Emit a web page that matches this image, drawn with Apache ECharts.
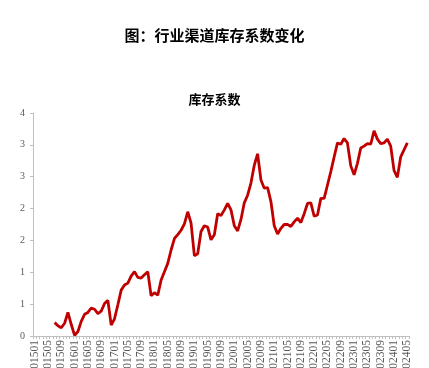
<!DOCTYPE html>
<html>
<head>
<meta charset="utf-8">
<script src="https://cdn.jsdelivr.net/npm/echarts@6/dist/echarts.min.js"></script>
<style>
  html, body { margin: 0; padding: 0; background: #fff; }
  #chart { width: 429px; height: 368px; }
</style>
</head>
<body>
<div id="chart"></div>
<script>
// 月份 201501 - 202405
const months = []
for (let y = 2015; y <= 2024; y++) {
  for (let m = 1; m <= 12; m++) {
    if (y === 2024 && m > 5) break
    months.push(String(y) + (m < 10 ? '0' + m : m))
  }
}

// 库存系数（前6个月无数据）
const stockRatio = [
  null, null, null, null, null, null,
  0.21, 0.16, 0.13, 0.20, 0.37, 0.18, 0.01, 0.07, 0.23, 0.34,
  0.37, 0.44, 0.42, 0.35, 0.39, 0.51, 0.56, 0.17, 0.27, 0.49,
  0.72, 0.80, 0.83, 0.94, 1.01, 0.92, 0.91, 0.96, 1.01, 0.63,
  0.68, 0.64, 0.88, 1.01, 1.14, 1.35, 1.53, 1.59, 1.66, 1.76,
  1.95, 1.77, 1.26, 1.29, 1.64, 1.73, 1.71, 1.51, 1.59, 1.92,
  1.89, 1.98, 2.08, 1.98, 1.73, 1.65, 1.83, 2.09, 2.21, 2.40,
  2.68, 2.86, 2.45, 2.32, 2.33, 2.11, 1.73, 1.60, 1.69, 1.75,
  1.75, 1.72, 1.79, 1.85, 1.78, 1.92, 2.08, 2.09, 1.88, 1.90,
  2.16, 2.16, 2.37, 2.58, 2.81, 3.03, 3.01, 3.10, 3.03, 2.67,
  2.53, 2.71, 2.95, 2.98, 3.02, 3.01, 3.22, 3.09, 3.02, 3.03,
  3.09, 2.98, 2.60, 2.49, 2.81, 2.92, 3.03
]

const chart = echarts.init(document.getElementById('chart'))

const axisGray = '#bfbfbf'
const labelGray = '#595959'
const serif = '"Liberation Serif", "DejaVu Serif", serif'

chart.setOption({
  animation: false,
  title: [
    {
      text: '图：行业渠道库存系数变化',
      left: 'center',
      top: 23,
      textStyle: { fontFamily: 'Noto Sans CJK SC', fontWeight: 'bold', fontSize: 15, color: '#000' }
    },
    {
      text: '库存系数',
      left: 'center',
      top: 88,
      textStyle: { fontFamily: 'Noto Sans CJK SC', fontWeight: 'bold', fontSize: 13, color: '#000' }
    }
  ],
  grid: {
    left: 33, right: 20, top: 113, bottom: 32,
    containLabel: false,
    outerBoundsMode: 'none'
  },
  xAxis: {
    type: 'category',
    data: months,
    boundaryGap: true,
    axisLine: { lineStyle: { color: axisGray, width: 1 } },
    axisTick: { show: true, interval: 0, length: 3, lineStyle: { color: axisGray } },
    axisLabel: {
      interval: 3,
      rotate: 90,
      margin: 4,
      fontFamily: serif,
      fontSize: 11.5,
      color: labelGray
    },
    splitLine: { show: false }
  },
  yAxis: {
    type: 'value',
    min: 0,
    max: 3.5,
    interval: 0.5,
    axisLine: { show: true, lineStyle: { color: axisGray, width: 1 } },
    axisTick: { show: true, length: 3, lineStyle: { color: axisGray } },
    axisLabel: {
      margin: 8,
      fontFamily: serif,
      fontSize: 10,
      color: labelGray,
      formatter: v => String(Math.round(v))
    },
    splitLine: { show: false }
  },
  series: [
    {
      name: '库存系数',
      type: 'line',
      data: stockRatio,
      showSymbol: false,
      symbol: 'none',
      lineStyle: { color: '#c00000', width: 2.8 },
      itemStyle: { color: '#c00000' }
    }
  ]
})
</script>
</body>
</html>
